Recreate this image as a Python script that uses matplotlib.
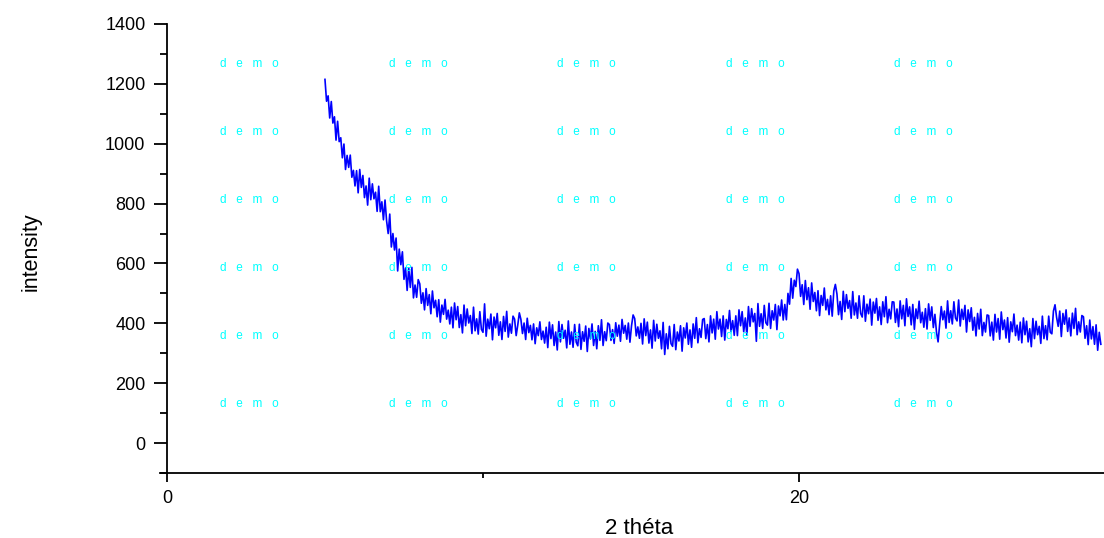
import numpy as np
import matplotlib.pyplot as plt
from matplotlib.ticker import MultipleLocator

# scan grid: 2 theta from 5.00 in 0.05 steps
theta_start = 5.0
theta_step = 0.05

# intensity, one row per degree (20 points)
intensity = [
    1215, 1142, 1160, 1086, 1141, 1069, 1090, 1012, 1075, 1007, 1020, 953, 999, 914, 961, 921, 962, 888, 911, 859,
    910, 836, 914, 854, 894, 820, 859, 795, 885, 813, 866, 816, 838, 774, 858, 773, 806, 746, 812, 742,
    700, 765, 655, 700, 645, 685, 575, 648, 596, 639, 547, 585, 510, 585, 520, 587, 485, 528, 487, 546,
    532, 467, 502, 445, 516, 460, 496, 432, 508, 452, 477, 422, 479, 404, 461, 430, 480, 414, 444, 398,
    454, 385, 468, 412, 456, 386, 429, 368, 461, 392, 448, 401, 426, 366, 454, 375, 415, 364, 439, 380,
    370, 465, 357, 414, 382, 431, 345, 421, 385, 433, 360, 405, 346, 423, 373, 440, 354, 398, 367, 424,
    414, 359, 394, 435, 413, 366, 401, 346, 417, 369, 393, 345, 398, 332, 385, 359, 405, 346, 374, 334,
    387, 319, 404, 349, 395, 326, 371, 311, 406, 338, 396, 350, 377, 318, 408, 330, 371, 320, 396, 337,
    325, 397, 313, 372, 340, 391, 306, 383, 348, 398, 326, 373, 315, 392, 343, 412, 326, 372, 342, 401,
    396, 343, 379, 333, 402, 357, 394, 340, 413, 367, 393, 347, 401, 337, 392, 428, 416, 358, 388, 350,
    400, 331, 415, 359, 404, 334, 378, 317, 410, 341, 397, 350, 375, 315, 403, 296, 365, 315, 390, 332,
    323, 396, 312, 371, 341, 392, 307, 385, 351, 401, 330, 378, 320, 398, 350, 419, 335, 382, 353, 413,
    416, 349, 396, 338, 425, 368, 414, 347, 439, 381, 414, 356, 425, 344, 413, 382, 443, 372, 409, 360,
    425, 359, 445, 392, 439, 372, 418, 360, 456, 390, 449, 405, 433, 340, 466, 390, 432, 383, 460, 402,
    394, 467, 383, 442, 411, 463, 379, 458, 425, 478, 411, 463, 412, 500, 464, 550, 484, 544, 523, 581,
    566, 490, 529, 463, 543, 479, 519, 447, 535, 473, 503, 442, 509, 426, 493, 460, 518, 445, 480, 429,
    492, 424, 508, 530, 498, 429, 473, 413, 507, 439, 496, 450, 476, 417, 506, 428, 468, 417, 492, 433,
    421, 492, 407, 464, 432, 481, 394, 471, 434, 483, 410, 455, 396, 472, 422, 489, 402, 447, 415, 472,
    471, 403, 448, 389, 475, 415, 460, 392, 482, 423, 455, 395, 463, 380, 448, 416, 474, 402, 437, 387,
    449, 381, 465, 410, 455, 386, 430, 370, 338, 398, 456, 412, 441, 384, 475, 403, 442, 398, 472, 418,
    408, 478, 391, 447, 413, 460, 371, 445, 406, 452, 377, 420, 358, 433, 381, 447, 359, 403, 371, 428,
    426, 358, 404, 344, 430, 371, 416, 347, 438, 379, 411, 351, 419, 337, 405, 372, 431, 359, 394, 344,
    404, 335, 418, 362, 407, 338, 382, 322, 416, 349, 407, 362, 390, 333, 424, 349, 392, 345, 424, 370,
    365, 441, 462, 420, 390, 441, 356, 433, 397, 445, 373, 418, 358, 434, 383, 450, 362, 405, 371, 426,
    422, 350, 392, 329, 411, 348, 389, 330, 395, 310, 370, 330,
]

y_ticks = [0, 200, 400, 600, 800, 1000, 1200, 1400]
x_ticks = [0, 20]
wm_cols = [249, 418, 586, 755, 923]   # watermark centres, px
wm_rows = [64, 132, 200, 268, 336, 404]

theta = theta_start + theta_step * np.arange(len(intensity))

plt.rcParams['font.family'] = ['Liberation Sans', 'DejaVu Sans']

fig = plt.figure(figsize=(11.04, 5.38), dpi=100)
ax = fig.add_axes([160 / 1104, 65 / 538, 944 / 1104, 449 / 538])

ax.plot(theta, intensity, color='#0000ff', lw=1.2)

ax.set_xlim(-0.22, 29.65)
ax.set_ylim(-100, 1400)
ax.spines['left'].set_position(('data', 0))
ax.spines['top'].set_visible(False)
ax.spines['right'].set_visible(False)
for s in ['left', 'bottom']:
    ax.spines[s].set_linewidth(1.3)

ax.set_xticks(x_ticks)
ax.xaxis.set_minor_locator(MultipleLocator(10))
ax.set_yticks(y_ticks)
ax.yaxis.set_minor_locator(MultipleLocator(100))
ax.tick_params(axis='x', which='major', length=6.5, width=1.3, labelsize=13, pad=6)
ax.tick_params(axis='x', which='minor', length=3.6, width=1.3)
ax.tick_params(axis='y', which='major', length=9.5, width=1.3, labelsize=13, pad=6)
ax.tick_params(axis='y', which='minor', length=5, width=1.3)

ax.set_xlabel('2 théta', fontsize=16)
ax.xaxis.set_label_coords(0.508, -0.1)
ax.set_ylabel('intensity', fontsize=15.5)
ax.yaxis.set_label_coords(-0.125, 0.494)

for cx in wm_cols:
    for cy in wm_rows:
        fig.text(cx / 1104, 1 - cy / 538, 'd   e   m   o', color='#00ffff',
                 fontsize=8.5, ha='center', va='center')

fig.savefig('out.png', dpi=100)
